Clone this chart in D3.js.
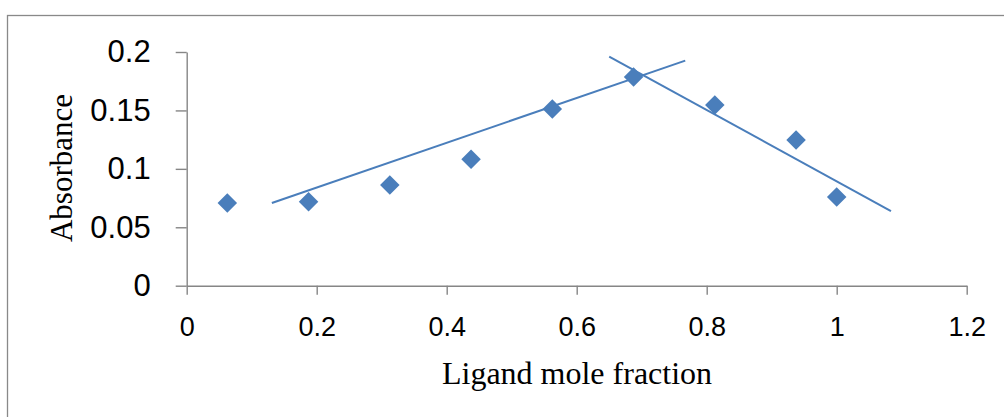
<!DOCTYPE html>
<html lang="en">
<head>
    <meta charset="UTF-8">
    <script src="https://d3js.org/d3.v7.min.js"></script>
    <style>
        body {
            margin: 0;
            padding: 0;
            background-color: #ffffff;
        }

        svg {
            display: block;
        }

        .axis path,
        .axis line {
            stroke: #868686;
            stroke-width: 1.4px;
        }

        .axis text {
            font-family: 'Liberation Sans', Arial, sans-serif;
            fill: #000000;
        }

        .title {
            font-family: 'Liberation Serif', 'Times New Roman', serif;
            fill: #000000;
        }
    </style>
</head>
<body>
    <svg id="chart"></svg>

    <script>
        // Measured points (ligand mole fraction vs absorbance)
        const moleFraction = [0.0625, 0.1875, 0.3125, 0.4375, 0.5625, 0.6875, 0.8125, 0.9375, 1.0];
        const absorbance = [0.0708, 0.0719, 0.0862, 0.1082, 0.1512, 0.1786, 0.1546, 0.1247, 0.0759];

        // Two straight fitting lines, start and end
        const riseX = [0.131, 0.767];
        const riseY = [0.0708, 0.1926];
        const fallX = [0.650, 1.0835];
        const fallY = [0.196, 0.0639];

        const xTicks = [0, 0.2, 0.4, 0.6, 0.8, 1, 1.2];
        const yTicks = [0, 0.05, 0.1, 0.15, 0.2];

        const width = 1004;
        const height = 417;
        const margin = { top: 52, left: 186.7 };
        const plotW = 780;
        const plotH = 233.7;

        const color = "#4a7ebb";

        const svg = d3.select("#chart")
            .attr("width", width)
            .attr("height", height);

        // chart area border
        svg.append("rect")
            .attr("x", 7.5)
            .attr("y", 15.5)
            .attr("width", 1100)
            .attr("height", 500)
            .attr("fill", "none")
            .attr("stroke", "#898989")
            .attr("stroke-width", 1.3);

        const g = svg.append("g")
            .attr("transform", `translate(${margin.left},${margin.top})`);

        const x = d3.scaleLinear().domain([0, 1.2]).range([0, plotW]);
        const y = d3.scaleLinear().domain([0, 0.2]).range([plotH, 0]);

        // axes
        const xAxis = d3.axisBottom(x)
            .tickValues(xTicks)
            .tickSizeInner(9)
            .tickSizeOuter(0)
            .tickPadding(22)
            .tickFormat(d3.format("~g"));

        const yAxis = d3.axisLeft(y)
            .tickValues(yTicks)
            .tickSizeInner(11)
            .tickSizeOuter(0)
            .tickPadding(25)
            .tickFormat(d3.format("~g"));

        const gx = g.append("g")
            .attr("class", "axis")
            .attr("transform", `translate(0,${plotH})`)
            .call(xAxis);
        gx.selectAll("text").style("font-size", "27px");

        const gy = g.append("g")
            .attr("class", "axis")
            .call(yAxis);
        gy.selectAll("text").style("font-size", "31px");

        // fitting lines
        const line = d3.line().x(d => x(d[0])).y(d => y(d[1]));
        [[riseX, riseY], [fallX, fallY]].forEach(([xs, ys]) => {
            g.append("path")
                .datum(xs.map((v, i) => [v, ys[i]]))
                .attr("d", line)
                .attr("fill", "none")
                .attr("stroke", color)
                .attr("stroke-width", 2);
        });

        // diamond markers
        const diamond = d3.symbol(d3.symbolSquare, 190);
        g.selectAll(".pt")
            .data(moleFraction.map((v, i) => [v, absorbance[i]]))
            .enter()
            .append("path")
            .attr("class", "pt")
            .attr("d", diamond)
            .attr("transform", d => `translate(${x(d[0])},${y(d[1])}) rotate(45)`)
            .attr("fill", color);

        // axis titles
        svg.append("text")
            .attr("class", "title")
            .attr("x", 577)
            .attr("y", 384)
            .attr("text-anchor", "middle")
            .style("font-size", "32px")
            .text("Ligand mole fraction");

        svg.append("text")
            .attr("class", "title")
            .attr("transform", "translate(72,168) rotate(-90)")
            .attr("text-anchor", "middle")
            .style("font-size", "31px")
            .text("Absorbance");
    </script>
</body>
</html>
